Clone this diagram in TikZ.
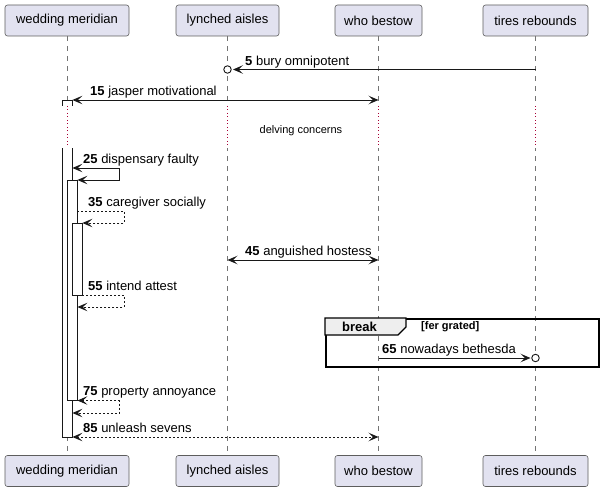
\documentclass[tikz,border=0pt]{standalone}
\usepackage{fontspec}
\setmainfont{Liberation Sans}
\usetikzlibrary{arrows.meta,calc}
\definecolor{pfill}{HTML}{E2E2F0}
\definecolor{pline}{HTML}{181818}
\definecolor{dred}{HTML}{A80036}
\definecolor{tabgray}{HTML}{EEEEEE}
\tikzset{
  part/.style    ={rectangle, rounded corners=2.5pt, draw=pline!70, fill=pfill,
                   line width=0.6pt, minimum height=31pt, inner sep=0pt,
                   font=\fontsize{13}{15}\selectfont},
  life/.style    ={draw=pline!60, line width=0.5pt, dash pattern=on 5pt off 5pt},
  delayline/.style={draw=dred, line width=0.8pt, dash pattern=on 1pt off 2.5pt},
  actbar/.style  ={rectangle, draw=pline, fill=white, line width=0.8pt,
                   minimum width=10pt, inner sep=0pt},
  msg/.style     ={draw=pline, line width=0.9pt},
  ret/.style     ={msg, dash pattern=on 2pt off 2pt},
  tip/.style     ={-{Stealth[length=10pt,width=8.5pt,inset=4.5pt]}},
  tips/.style    ={{Stealth[length=10pt,width=8.5pt,inset=4.5pt]}-{Stealth[length=10pt,width=8.5pt,inset=4.5pt]}},
  lbl/.style     ={anchor=base west, inner sep=0pt, font=\fontsize{13}{15}\selectfont},
  circ/.style    ={circle, draw=pline, fill=white, line width=0.9pt,
                   minimum size=7.5pt, inner sep=0pt},
  grpbox/.style  ={rectangle, draw=black, line width=2pt, inner sep=0pt}
}

\begin{document}
\begin{tikzpicture}[x=1pt,y=-1pt]
\useasboundingbox (0,0) rectangle (603,492);

% participants
\node[part, minimum width=124pt] (wmT) at (67,20.5)    {wedding meridian};
\node[part, minimum width=103pt] (laT) at (227.5,20.5) {lynched aisles};
\node[part, minimum width=87pt]  (wbT) at (378.5,20.5) {who bestow};
\node[part, minimum width=105pt] (trT) at (535.5,20.5) {tires rebounds};
\node[part, minimum width=124pt] (wmB) at (67,471)    {wedding meridian};
\node[part, minimum width=103pt] (laB) at (227.5,471) {lynched aisles};
\node[part, minimum width=87pt]  (wbB) at (378.5,471) {who bestow};
\node[part, minimum width=105pt] (trB) at (535.5,471) {tires rebounds};

\foreach \p in {wm,la,wb,tr}
  \draw[life] (\p T.south) -- (\p B.north);

% message rows
\coordinate (r5)   at (0,69.5);
\coordinate (r15)  at (0,100);
\coordinate (d1)   at (0,106);
\coordinate (d2)   at (0,148);
\coordinate (r25)  at (0,168);
\coordinate (r25b) at (0,180);
\coordinate (r35)  at (0,211);
\coordinate (r35b) at (0,223);
\coordinate (r45)  at (0,260);
\coordinate (r55)  at (0,295);
\coordinate (r55b) at (0,307);
\coordinate (r65)  at (0,358);
\coordinate (r75)  at (0,400.5);
\coordinate (r75b) at (0,413);
\coordinate (r85)  at (0,437);

% activations
\node[actbar, minimum height=337pt] (a1) at (67,268.5) {};
\node[actbar, minimum height=220.5pt] (a2) at (72,290.25) {};
\node[actbar, minimum height=72pt]  (a3) at (77,259) {};

% delay
\fill[white] (d1) rectangle (603,148);
\foreach \p in {wm,la,wb,tr}
  \draw[delayline] (\p T |- d1) -- (\p T |- d2);
\node[font=\fontsize{11}{13}\selectfont] (dly) at (301,130.5) {delving concerns};

% messages
\draw[msg, tip] (trT |- r5) -- ($(laT |- r5)+(5.5,0)$);
\node[circ] (c5) at (laT |- r5) {};
\node[lbl] (l5) at (245,65.5) {\textbf{5} bury omnipotent};

\draw[msg, tips] (a1.east |- r15) -- (wbT |- r15);
\node[lbl] (l15) at (90,95.5) {\textbf{15} jasper motivational};

\draw[msg, tips] (a1.east |- r25) -- ++(47,0) |- (a2.east |- r25b);
\node[lbl] (l25) at (83,163.5) {\textbf{25} dispensary faulty};

\draw[ret, tip] (a2.east |- r35) -- ++(47,0) |- (a3.east |- r35b);
\node[lbl] (l35) at (88,206.5) {\textbf{35} caregiver socially};

\draw[msg, tips] (laT |- r45) -- (wbT |- r45);
\node[lbl] (l45) at (245,255.5) {\textbf{45} anguished hostess};

\draw[ret, tip] (a3.east |- r55) -- ++(42,0) |- (a2.east |- r55b);
\node[lbl] (l55) at (88,290.5) {\textbf{55} intend attest};

% break group
\node[grpbox, minimum width=273pt, minimum height=48pt, anchor=north west] (brk) at (325,318) {};
\draw[line width=1.4pt, fill=tabgray] (brk.north west) -- ++(81,0) -- ++(0,9) -- ++(-8,8) -- ++(-73,0) -- cycle;
\node[font=\fontsize{13}{15}\selectfont\bfseries] (brkl) at (359.5,327) {break};
\node[font=\fontsize{11}{13}\selectfont\bfseries, anchor=west, inner sep=0pt] (brkc) at (421,327) {[fer grated]};

\draw[msg, tip] (wbT |- r65) -- ($(trT |- r65)+(-5,0)$);
\node[circ] (c65) at (trT |- r65) {};
\node[lbl] (l65) at (382,353.5) {\textbf{65} nowadays bethesda};

\draw[ret, tips] (a2.east |- r75) -- ++(42,0) |- (a1.east |- r75b);
\node[lbl] (l75) at (83,395.5) {\textbf{75} property annoyance};

\draw[ret, tips] (a1.east |- r85) -- (wbT |- r85);
\node[lbl] (l85) at (83,432.5) {\textbf{85} unleash sevens};
\end{tikzpicture}
\end{document}
